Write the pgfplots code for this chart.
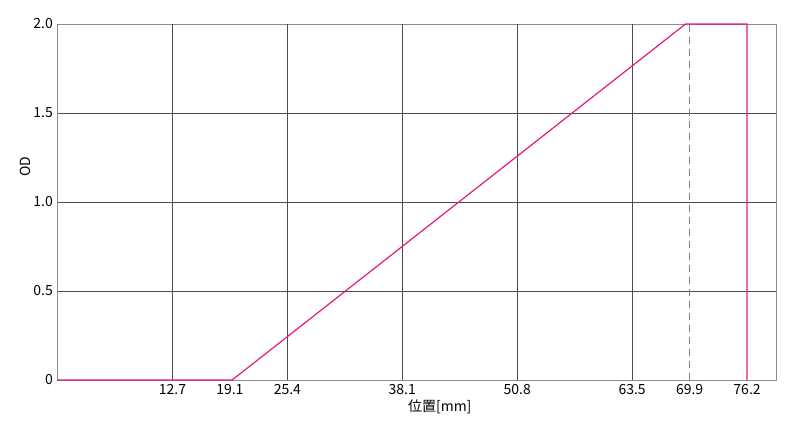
\documentclass[border=0pt]{standalone}
\usepackage{fontspec}
\setmainfont{Noto Sans CJK JP}
\usepackage{pgfplots}
\pgfplotsset{compat=1.18}
\definecolor{odpink}{HTML}{E6177F}
\begin{document}
\begin{tikzpicture}
\useasboundingbox (-43.125pt,-38.25pt) rectangle (556.875pt,285pt);
\begin{axis}[
  at={(0,0)}, anchor=south west,
  scale only axis, width=538.9pt, height=267pt,
  xmin=0, xmax=79.4, ymin=0, ymax=2,
  clip=false,
  font=\fontsize{10.5}{12}\selectfont,
  /pgf/number format/assume math mode=true,
  axis line style={black!45, line width=0.7pt},
  major tick length=0pt,
  xtick={12.7,19.05,25.4,38.1,50.8,63.5,69.85,76.2},
  xticklabels={12.7,19.1,25.4,38.1,50.8,63.5,69.9,76.2},
  extra x ticks={12.7,25.4,38.1,50.8,63.5},
  extra x tick labels={},
  extra x tick style={xmajorgrids=true},
  ytick={0,0.5,1,1.5,2},
  yticklabels={0,0.5,1.0,1.5,2.0},
  ymajorgrids=true,
  major grid style={black!70, line width=0.6pt},
  xlabel={位置[mm]},
  ylabel={OD},
  xlabel style={at={(axis description cs:0.532,0)}, anchor=north, yshift=-15pt, inner sep=0pt},
  ylabel style={at={(axis description cs:0,0.6)}, anchor=south, yshift=20pt, inner sep=0pt},
]
\addplot[black!50, line width=0.7pt, dash pattern=on 5.5pt off 3.5pt] coordinates {(69.85,0) (69.85,2)};
\addplot[odpink, line width=0.9pt] coordinates {
(0,0) (19.3,0) (69.4,2) (76.2,2) (76.2,0)
};
\end{axis}
\end{tikzpicture}
\end{document}
